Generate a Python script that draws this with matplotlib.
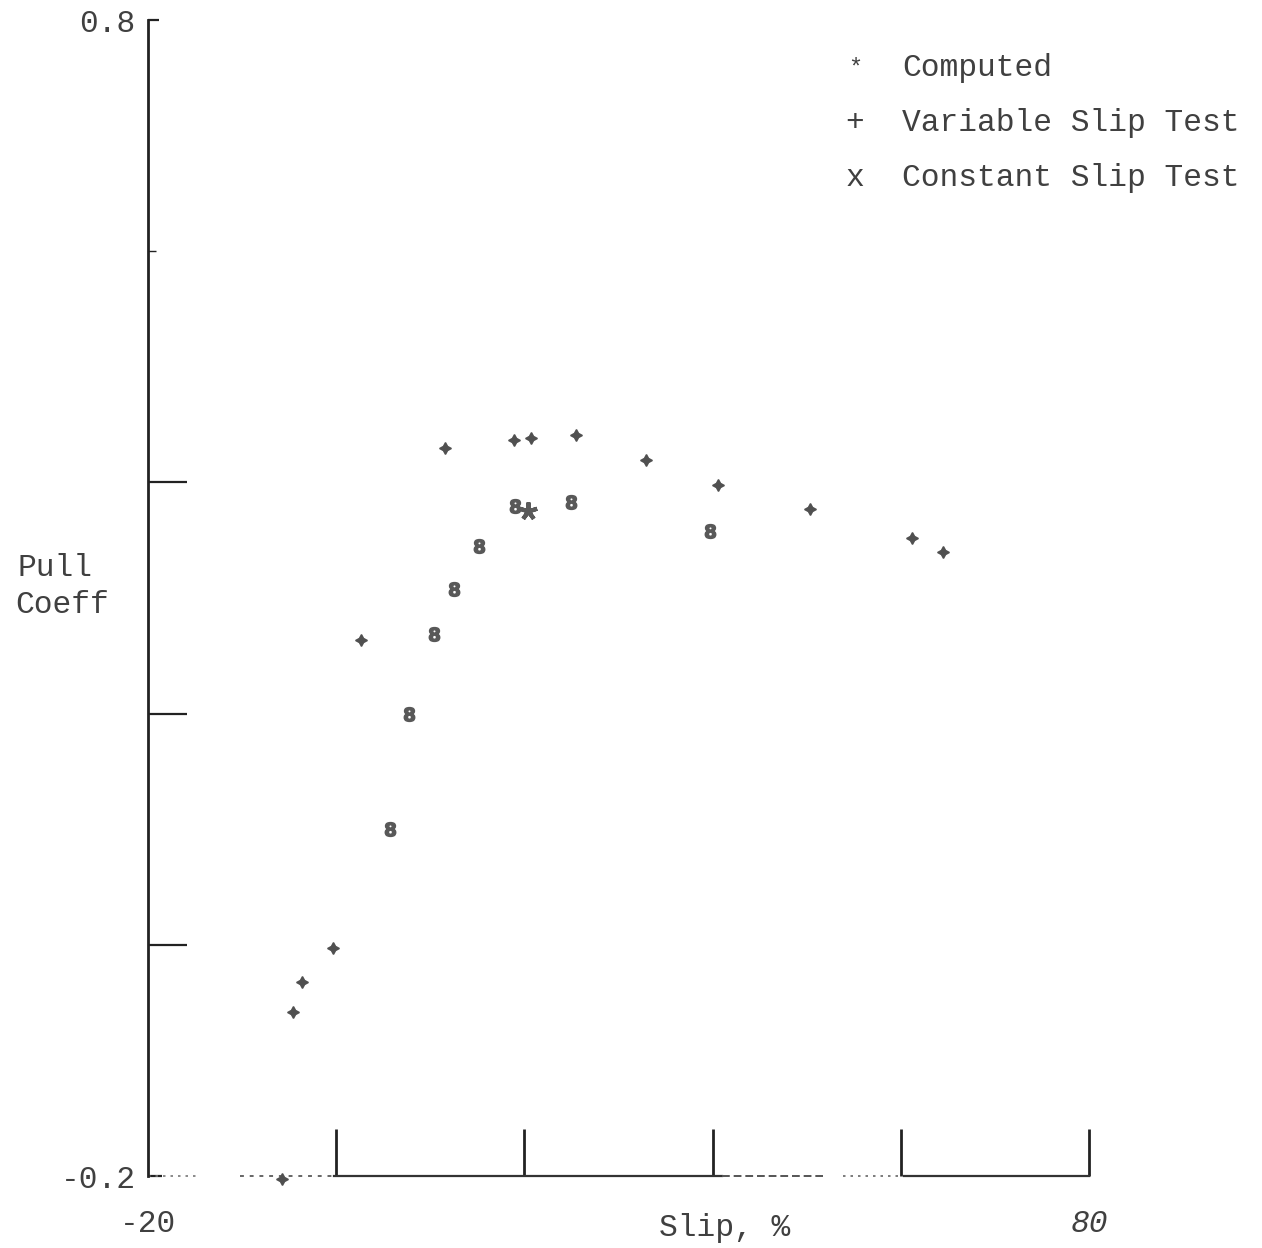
import matplotlib
matplotlib.use("Agg")
import matplotlib.pyplot as plt

plt.rcParams['font.family'] = ['Liberation Mono', 'DejaVu Sans Mono']

# Variable slip test (+)
var_slip = [-5.8, -4.6, -3.6, -0.3, 2.6, 11.6, 18.9, 20.7, 25.5, 32.9, 40.6, 50.3, 61.2, 64.5]
var_pull = [-0.203, -0.058, -0.032, -0.003, 0.264, 0.430, 0.437, 0.438, 0.441, 0.419, 0.398, 0.377, 0.352, 0.340]

# Constant slip test (x)
const_slip = [5.7, 7.7, 10.4, 12.5, 15.2, 19.0, 25.0, 39.7]
const_pull = [0.100, 0.200, 0.269, 0.308, 0.345, 0.380, 0.383, 0.358]

# Computed point (*)
comp_slip = [20.4]
comp_pull = [0.375]

x_ticks = [-20, 0, 20, 40, 60, 80]
x_labels = ['-20', '', '', '', '', '80']
y_ticks = [-0.2, 0.0, 0.2, 0.4, 0.6, 0.8]
y_labels = ['-0.2', '', '', '', '', '0.8']

legend_symbols = ['*', '+', 'x']
legend_labels = ['Computed', 'Variable Slip Test', 'Constant Slip Test']

W, H = 1262, 1248
FS = 22.5
fig = plt.figure(figsize=(W / 100, H / 100), dpi=100)
ax = fig.add_axes([148 / W, 1 - 1176 / H, (1089 - 148) / W, (1176 - 20) / H])
ax.set_xlim(-20, 80)
ax.set_ylim(-0.2, 0.8)

txt = '#404040'

for s in ['top', 'right', 'bottom']:
    ax.spines[s].set_visible(False)
ax.spines['left'].set_linewidth(2.0)
ax.spines['left'].set_color('#222222')

# bottom axis line, partly broken into dots and dashes
xt = ax.get_xaxis_transform()
ax.plot([-20, -14.5], [0, 0], transform=xt, clip_on=False, color='#777777', lw=1.2, ls=(0, (1.5, 3)))
ax.plot([-10.2, -0.2], [0, 0], transform=xt, clip_on=False, color='#666666', lw=1.4, ls=(0, (2, 3)))
ax.plot([-0.2, 41.0], [0, 0], transform=xt, clip_on=False, color='#333333', lw=1.6)
ax.plot([41.0, 51.7], [0, 0], transform=xt, clip_on=False, color='#555555', lw=1.4, ls=(0, (4, 2)))
ax.plot([53.9, 60.3], [0, 0], transform=xt, clip_on=False, color='#666666', lw=1.2, ls=(0, (1.5, 3)))
ax.plot([60.3, 80], [0, 0], transform=xt, clip_on=False, color='#333333', lw=1.6)

ax.set_xticks(x_ticks)
ax.set_xticklabels(x_labels)
ax.set_yticks(y_ticks)
ax.set_yticklabels(y_labels)
ax.tick_params(axis='x', direction='in', length=34, width=2.0, color='#222222',
               pad=24, labelsize=FS, labelcolor=txt)
ax.tick_params(axis='y', direction='in', length=28, width=1.6, color='#222222',
               pad=9, labelsize=FS, labelcolor=txt)
ax.xaxis.get_major_ticks()[0].tick1line.set_visible(False)
yt = ax.yaxis.get_major_ticks()
yt[0].tick1line.set_markersize(10)
yt[0].tick1line.set_color('#aaaaaa')
yt[4].tick1line.set_markersize(6)
yt[4].tick1line.set_color('#bbbbbb')
yt[4].tick1line.set_markeredgewidth(1.0)
yt[5].tick1line.set_markersize(8)
yt[5].tick1line.set_color('#999999')

for lbl in ax.get_xticklabels():
    if lbl.get_text() == '80':
        lbl.set_fontstyle('italic')

ax.plot(var_slip, var_pull, ls='none', marker=(4, 1, 0), ms=8.5, color='#505050',
        mec='#505050', clip_on=False, zorder=3)
ax.plot(const_slip, const_pull, ls='none', marker=r'$\mathbf{8}$', ms=10, color='#585858',
        mec='#585858', clip_on=False, zorder=3)
ax.plot(comp_slip, comp_pull, ls='none', marker=(5, 2, 0), ms=13, mew=3,
        color='#5a5a5a', mec='#5a5a5a', zorder=4)

# axis titles
fig.text(17 / W, 1 - 568 / H, 'Pull', fontsize=FS, color=txt, ha='left', va='center')
fig.text(15 / W, 1 - 605 / H, 'Coeff', fontsize=FS, color=txt, ha='left', va='center')
fig.text(725 / W, 1 - 1228 / H, 'Slip, %', fontsize=FS, color=txt, ha='center', va='center')

# key
for i, (sym, lab) in enumerate(zip(legend_symbols, legend_labels)):
    yy = 1 - (68 + 55 * i) / H
    fig.text(855 / W, yy, sym, fontsize=FS if sym != '*' else 17, color=txt,
             ha='center', va='center')
    fig.text(902 / W, yy, lab, fontsize=FS, color=txt, ha='left', va='center')

fig.savefig('out.png', dpi=100, facecolor='white')
